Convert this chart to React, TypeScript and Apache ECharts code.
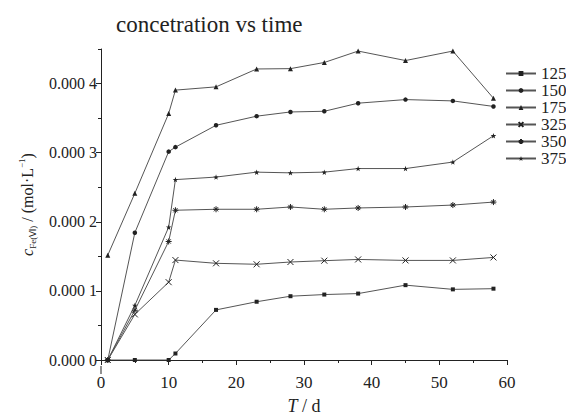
import React, { useEffect, useRef } from "react";
import * as echarts from "echarts";

const days = [1, 5, 10, 11, 17, 23, 28, 33, 38, 45, 52, 58];
const s125 = [0, 0, 0, 0.0000094, 0.0000725, 0.0000843, 0.0000923, 0.0000947, 0.0000961, 0.0001083, 0.0001022, 0.0001032];
const s150 = [0, 0.0001842, 0.0003015, 0.000308, 0.0003396, 0.0003528, 0.0003589, 0.0003599, 0.0003716, 0.0003768, 0.0003749, 0.0003669];
const s175 = [0.0001517, 0.0002412, 0.0003566, 0.0003905, 0.0003952, 0.0004211, 0.0004216, 0.0004305, 0.000447, 0.0004333, 0.000447, 0.0003787];
const s325 = [0, 0.000066, 0.0001126, 0.0001446, 0.0001399, 0.0001385, 0.0001418, 0.0001437, 0.0001455, 0.0001441, 0.0001441, 0.0001484];
const s350 = [0, 0.000072, 0.0001715, 0.0002167, 0.0002181, 0.0002181, 0.0002214, 0.0002181, 0.00022, 0.0002214, 0.0002242, 0.0002285];
const s375 = [0, 0.000079, 0.0001922, 0.000261, 0.0002647, 0.0002718, 0.0002708, 0.0002718, 0.000277, 0.000277, 0.0002864, 0.0003245];
const seriesNames = ["125", "150", "175", "325", "350", "375"];
const seriesValues = [s125, s150, s175, s325, s350, s375];

const SERIF = "Liberation Serif";
const CROSS = "path://M0,0L10,10M10,0L0,10";
const ASTER = "path://M5,0L5,10M0,5L10,5M1.5,1.5L8.5,8.5M8.5,1.5L1.5,8.5";
const STAR = "path://M5,0L6.2,3.6L10,3.6L7,5.9L8.1,9.5L5,7.3L1.9,9.5L3,5.9L0,3.6L3.8,3.6Z";
const symbols = ["rect", "circle", "triangle", CROSS, ASTER, STAR];
const symbolSizes = [4, 4.5, 5, 6, 6, 5.5];

const GRID_LEFT = 101;
const GRID_TOP = 49;
const GRID_BOTTOM = 53;
const X_OFFSET = 7;

export default function App() {
  const ref = useRef<HTMLDivElement>(null);
  useEffect(() => {
    if (!ref.current) return;
    const chart = echarts.init(ref.current, null, { renderer: "svg" });
    const series = seriesNames.map((name, i) => ({
      name,
      type: "line",
      data: days.map((d, j) => [d, seriesValues[i][j]]),
      symbol: symbols[i],
      symbolSize: symbolSizes[i],
      showSymbol: true,
      color: "#222",
      itemStyle: { color: "#222", borderColor: "#222", borderWidth: i >= 3 && i < 5 ? 1 : 0 },
      lineStyle: { color: "#555", width: 1 },
      emphasis: { disabled: true },
    }));
    const baseY = 420 - GRID_BOTTOM;
    chart.setOption({
      animation: false,
      textStyle: { fontFamily: SERIF },
      title: {
        text: "concetration vs time",
        left: 111,
        top: 8,
        textStyle: { fontFamily: SERIF, fontSize: 23, fontWeight: "normal", color: "#222" },
      },
      legend: {
        orient: "vertical",
        left: 500,
        top: 60,
        itemWidth: 30,
        itemHeight: 6,
        itemGap: 0,
        textStyle: { fontFamily: SERIF, fontSize: 17, lineHeight: 16, color: "#222" },
        data: seriesNames,
      },
      grid: { left: GRID_LEFT, right: 59, top: GRID_TOP, bottom: GRID_BOTTOM, containLabel: false },
      graphic: [
        {
          type: "line",
          shape: { x1: GRID_LEFT, y1: baseY - 1, x2: GRID_LEFT, y2: baseY + X_OFFSET },
          style: { stroke: "#222", lineWidth: 1 },
          silent: true,
        },
      ],
      xAxis: {
        type: "value",
        min: 0,
        max: 60,
        interval: 10,
        offset: X_OFFSET,
        name: "{i|T}{n| / d}",
        nameLocation: "middle",
        nameGap: 30,
        nameTextStyle: {
          rich: {
            i: { fontFamily: SERIF, fontSize: 18, fontStyle: "italic", color: "#222" },
            n: { fontFamily: SERIF, fontSize: 18, color: "#222" },
          },
        },
        axisLine: { lineStyle: { color: "#222", width: 1 } },
        axisTick: { show: true, length: 5, lineStyle: { color: "#222" } },
        minorTick: { show: true, splitNumber: 2, length: 3, lineStyle: { color: "#222" } },
        axisLabel: { fontFamily: SERIF, fontSize: 17, color: "#222", margin: 7 },
        splitLine: { show: false },
      },
      yAxis: [
        {
          type: "value",
          position: "left",
          min: 0,
          max: 0.00045,
          interval: 0.0001,
          name: "{c|c}{sub|Fe(Ⅵ)}{t| / (mol·L}{sup|−1}{t|)}",
          nameLocation: "middle",
          nameRotate: 90,
          nameGap: 64,
          nameTextStyle: {
            rich: {
              c: { fontFamily: SERIF, fontSize: 16, fontStyle: "italic", color: "#222", lineHeight: 20, verticalAlign: "middle" },
              sub: { fontFamily: SERIF, fontSize: 9, color: "#222", lineHeight: 9, verticalAlign: "bottom" },
              t: { fontFamily: SERIF, fontSize: 16, color: "#222", lineHeight: 20, verticalAlign: "middle" },
              sup: { fontFamily: SERIF, fontSize: 9, color: "#222", lineHeight: 9, verticalAlign: "top" },
            },
          },
          axisLine: { show: true, onZero: false, lineStyle: { color: "#222", width: 1 } },
          axisTick: { show: true, length: 5, lineStyle: { color: "#222" } },
          axisLabel: {
            fontFamily: SERIF,
            fontSize: 16,
            color: "#222",
            margin: 4,
            showMinLabel: true,
            showMaxLabel: false,
            formatter: (v: number) => {
              if (Math.abs(v / 0.0001 - Math.round(v / 0.0001)) > 1e-6) return "";
              const s = v.toFixed(4);
              return s.slice(0, 5) + " " + s.slice(5);
            },
          },
          splitLine: { show: false },
        },
        {
          type: "value",
          position: "left",
          min: 0,
          max: 0.00045,
          interval: 0.00005,
          axisLine: { show: false },
          axisTick: { show: true, length: 3, lineStyle: { color: "#222" } },
          axisLabel: { show: false },
          splitLine: { show: false },
        },
      ],
      series,
    });
    return () => chart.dispose();
  }, []);
  return <div ref={ref} style={{ position: "fixed", left: 0, top: 0, width: 566, height: 420, background: "#fff" }} />;
}
